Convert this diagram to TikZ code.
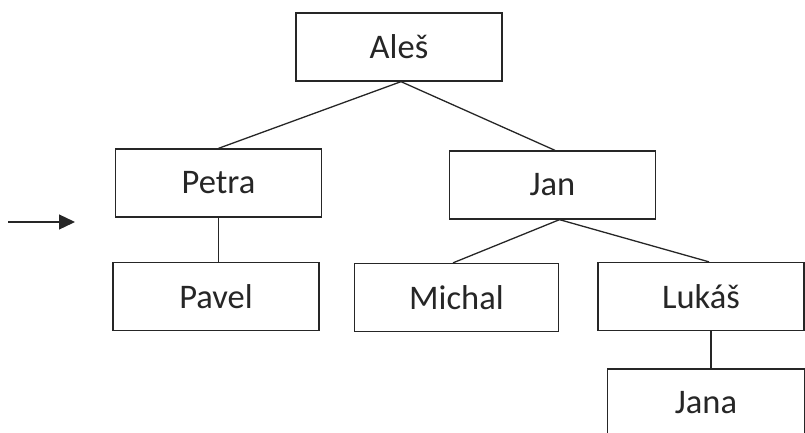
\documentclass[tikz,border=0pt]{standalone}
\usepackage{fontspec}
\setmainfont{Carlito}
\usetikzlibrary{arrows.meta}
\definecolor{ink}{HTML}{262626}
\begin{document}
\begin{tikzpicture}[x=1pt,y=-1pt,
  person/.style={draw=ink, line width=1.3pt, fill=white, rectangle, inner sep=0pt,
    minimum width=206pt, minimum height=68pt, text=ink,
    font=\fontsize{34.5}{40}\selectfont},
  link/.style={draw=ink, line width=1.3pt}]
  \useasboundingbox (0,0) rectangle (805,432);
  \clip (0,0) rectangle (805,432);
  % family tree
  \node[person] (ales)   at (399,47)    {Aleš};
  \node[person] (petra)  at (218.5,183) {Petra};
  \node[person] (jan)    at (552.5,185) {Jan};
  \node[person] (pavel)  at (216,296.5) {Pavel};
  \node[person, minimum width=204pt] (michal) at (456.5,297.5) {Michal};
  \node[person] (lukas)  at (701,296.5) {Lukáš};
  \node[person, minimum width=197pt] (jana) at (706,403) {Jana};
  \draw[link] ([xshift=2pt]ales.south) -- (petra.north);
  \draw[link] ([xshift=2pt]ales.south) -- ([xshift=2.5pt]jan.north);
  \draw[link] (petra.south) -- (petra.south |- pavel.north);
  \draw[link] ([xshift=7pt]jan.south) -- ([xshift=-3.5pt]michal.north);
  \draw[link] ([xshift=7pt]jan.south) -- ([xshift=8pt]lukas.north);
  \draw[link] ([xshift=10pt]lukas.south) -- ([xshift=5pt]jana.north);
  % pointer arrow
  \coordinate (p0) at (8,222);
  \coordinate (p1) at (75,222);
  \draw[ink, line width=1.3pt, -{Triangle[length=16pt,width=15pt]}] (p0) -- (p1);
\end{tikzpicture}
\end{document}
